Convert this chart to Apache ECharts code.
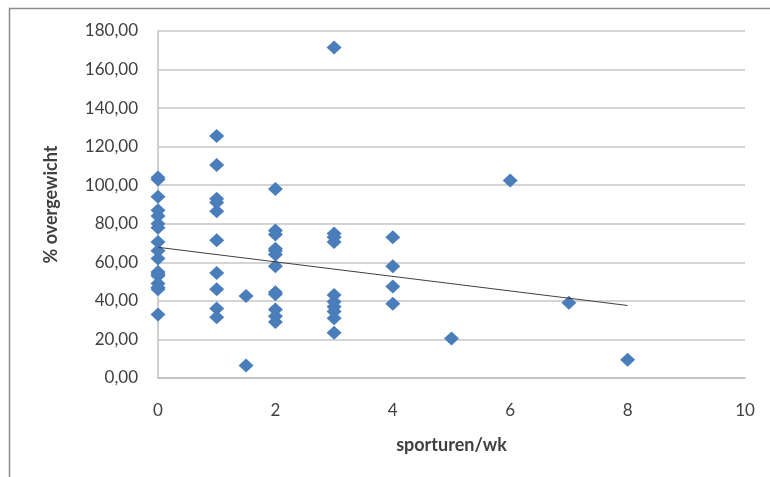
<!DOCTYPE html>
<html>
<head>
<meta charset="utf-8">
<script src="https://cdn.jsdelivr.net/npm/echarts@6/dist/echarts.min.js"></script>
<style>
  html, body { margin: 0; padding: 0; background: #fff; }
  #chart { width: 770px; height: 477px; }
</style>
</head>
<body>
<div id="chart"></div>
<script>
// sporturen per week (x) and % overgewicht (y)
const hours0 = [0, 0, 0, 0, 0, 0, 0, 0, 0, 0, 0, 0, 0, 0, 0, 0, 0];
const weight0 = [104, 103, 94, 87, 84, 80, 78, 70.5, 66, 62, 55, 54, 53, 49, 47, 46, 33];

const hours1 = [1, 1, 1, 1, 1, 1, 1, 1, 1, 1, 1.5, 1.5];
const weight1 = [125.5, 110.5, 93, 91, 86.5, 71.5, 54.5, 46, 36, 31.5, 42.5, 6.5];

const hours2 = [2, 2, 2, 2, 2, 2, 2, 2, 2, 2, 2, 2];
const weight2 = [98, 76.5, 74.5, 67, 66, 64, 58, 44.5, 43.5, 35.5, 32, 29];

const hours3 = [3, 3, 3, 3, 3, 3, 3, 3, 3, 3];
const weight3 = [171.5, 75, 73, 70.5, 43, 39.5, 37, 34.5, 31, 23.5];

const hours4 = [4, 4, 4, 4, 5, 6, 7, 8];
const weight4 = [73, 58, 47.5, 38.5, 20.5, 102.5, 39, 9.5];

// linear trend line end points, as drawn
const trendX = [0, 8];
const trendY = [67.8, 37.6];

const yTicks = [0, 20, 40, 60, 80, 100, 120, 140, 160, 180];
const xTicks = [0, 2, 4, 6, 8, 10];

const hours = [].concat(hours0, hours1, hours2, hours3, hours4);
const weight = [].concat(weight0, weight1, weight2, weight3, weight4);
const points = hours.map((h, i) => [h, weight[i]]);
const trend = trendX.map((x, i) => [x, trendY[i]]);

const chart = echarts.init(document.getElementById('chart'));

const font = 'Lato, "Open Sans", sans-serif';

chart.setOption({
  animation: false,
  backgroundColor: '#fff',
  graphic: [
    {
      type: 'rect',
      shape: { x: 9.5, y: 8.5, width: 780, height: 480 },
      style: { fill: 'none', stroke: '#8c8c8c', lineWidth: 1.5 },
      silent: true
    }
  ],
  grid: {
    left: 158,
    right: 25,
    top: 31,
    bottom: 99
  },
  xAxis: {
    type: 'value',
    min: xTicks[0],
    max: xTicks[xTicks.length - 1],
    interval: 2,
    name: 'sporturen/wk',
    nameLocation: 'middle',
    nameGap: 58,
    nameTextStyle: { fontFamily: font, fontSize: 18, fontWeight: 'bold', color: '#404040' },
    axisLine: { lineStyle: { color: '#bfbfbf', width: 1.5 } },
    axisTick: { show: false },
    axisLabel: { fontFamily: font, fontSize: 17, color: '#404040', margin: 24 },
    splitLine: { show: false }
  },
  yAxis: {
    type: 'value',
    min: yTicks[0],
    max: yTicks[yTicks.length - 1],
    interval: 20,
    name: '% overgewicht',
    nameLocation: 'middle',
    nameGap: 98,
    nameTextStyle: { fontFamily: font, fontSize: 18, fontWeight: 'bold', color: '#404040' },
    axisLine: { show: true, lineStyle: { color: '#bfbfbf', width: 1.5 } },
    axisTick: { show: false },
    axisLabel: {
      fontFamily: font,
      fontSize: 17,
      color: '#404040',
      margin: 20,
      formatter: v => v.toFixed(2).replace('.', ',')
    },
    splitLine: { lineStyle: { color: '#c6c6c6', width: 1.5 } }
  },
  series: [
    {
      type: 'scatter',
      data: points,
      symbol: 'diamond',
      symbolSize: [15, 14],
      itemStyle: { color: '#4a7ebb', opacity: 1 },
      z: 3
    },
    {
      type: 'line',
      data: trend,
      symbol: 'none',
      lineStyle: { color: '#404040', width: 1 },
      z: 4
    }
  ]
});
</script>
</body>
</html>
